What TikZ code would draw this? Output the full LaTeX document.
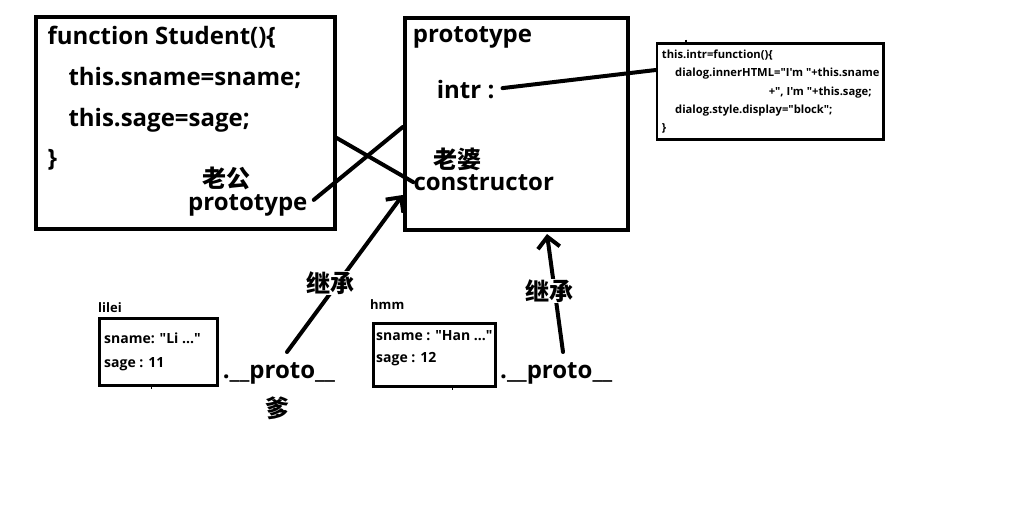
\documentclass[tikz,border=0pt]{standalone}
\usepackage{fontspec}
\setmainfont{Open Sans}[Ligatures=TeXOff]
\newfontfamily\cjk{Noto Sans CJK SC}
\usetikzlibrary{arrows.meta}
\tikzset{
  box/.style={draw, line width=4pt, inner sep=0pt},
  pane/.style={draw, line width=3pt, inner sep=0pt},
  big/.style={anchor=base west, inner sep=0pt, font=\bfseries\fontsize{24}{28}\selectfont},
  cn/.style={inner sep=1pt, font=\cjk\bfseries\fontsize{24}{26}\selectfont},
  mid/.style={anchor=base west, inner sep=0pt, font=\bfseries\fontsize{14}{16}\selectfont},
  tag/.style={anchor=base west, inner sep=0pt, font=\bfseries\fontsize{13}{15}\selectfont},
  code/.style={anchor=base west, inner sep=0pt, font=\bfseries\fontsize{11.2}{13}\selectfont},
  link/.style={line width=4pt, line cap=round},
  inh/.style={link, -{Straight Barb[length=11pt, width=22pt]}},
  speck/.style={line width=1.5pt},
}

\begin{document}
\begin{tikzpicture}[x=1pt, y=-1pt]
  \useasboundingbox (0,0) rectangle (1016,523);
  \node[box, minimum width=298.5pt, minimum height=212.5pt] (fnbox) at (185.5,122.8) {};
  \node[box, minimum width=223.3pt, minimum height=212.5pt] (protobox) at (516.4,123.8) {};
  \node[pane, line width=2.6pt, minimum width=226.3pt, minimum height=96pt] (codebox) at (770.2,91.7) {};
  \node[pane, minimum width=118pt, minimum height=66.7pt] (lileibox) at (158,351.7) {};
  \node[pane, minimum width=122pt, minimum height=62.7pt] (hmmbox) at (434,354.7) {};
  % constructor
  \node[big] (fnhead) at (47.3,44.3) {function Student()\{};
  \node[big] (fnsname) at (68.3,85) {this.sname=sname;};
  \node[big] (fnsage) at (68.3,126) {this.sage=sage;};
  \node[big] (fnend) at (47.3,166) {\}};
  \node[cn] (husband) at (226.5,178) {老公};
  \node[big] (ptype) at (188,210) {prototype};
  % prototype object
  \node[big] (protohead) at (412.7,42.7) {prototype};
  \node[big] (intr) at (436.7,98) {intr :};
  \node[cn] (wife) at (457,159) {老婆};
  \node[big] (ctor) at (413.3,190) {constructor};
  % intr body
  \node[code] (cl1) at (661.7,58.3) {this.intr=function()\{};
  \node[code] (cl2) at (675,76.7) {dialog.innerHTML="I'm "+this.sname};
  \node[code, anchor=base east] (cl3) at (871.7,95) {+", I'm "+this.sage;};
  \node[code] (cl4) at (675,113.3) {dialog.style.display="block";};
  \node[code] (cl5) at (661.7,131.7) {\}};
  % instances
  \node[tag] (lileiname) at (98,312.7) {lilei};
  \node[mid] (lileisname) at (104,343.3) {sname: "Li ..."};
  \node[mid] (lileisage) at (104,367) {sage : 11};
  \node[big] (proto1) at (222.7,378.3) {.\_\_proto\_\_};
  \node[cn] (dad) at (277,408) {爹};
  \node[tag] (hmmname) at (370,309) {hmm};
  \node[mid] (hmmsname) at (376,340) {sname : "Han ..."};
  \node[mid] (hmmsage) at (376,362.7) {sage : 12};
  \node[big] (proto2) at (500,378.3) {.\_\_proto\_\_};
  % links
  \draw[link, shorten <=8pt] (intr.east) -- (codebox.west |- 0,70);
  \draw[link] (fnbox.east |- 0,138) -- (ctor.west);
  \draw[link, shorten <=8pt] (ptype.east) -- (protobox.west |- 0,127);
  \coordinate (inh1) at (287,352);
  \coordinate (inh2) at (563,352);
  \draw[inh] (inh1) -- (protobox.west |- 0,195);
  \draw[inh] (inh2) -- (547,234);
  \node[cn, fill=white] (inh1lab) at (330,283) {继承};
  \node[cn, fill=white] (inh2lab) at (549,291) {继承};
  \draw[speck] (151.7,385) -- (151.7,388.5);
  \draw[speck] (452.7,386) -- (452.7,389.5);
  \draw[speck] (686,39.5) -- (686,43);
\end{tikzpicture}
\end{document}
